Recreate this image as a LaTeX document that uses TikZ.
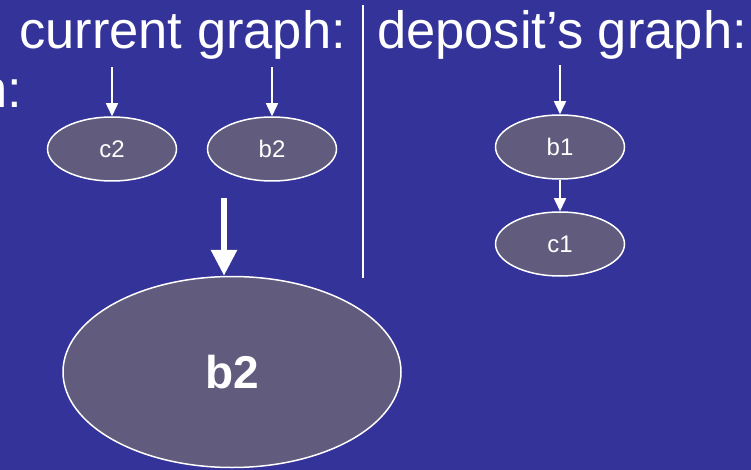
\documentclass[tikz,border=0pt]{standalone}
\usepackage{fontspec}
\setmainfont{Liberation Sans}
\usetikzlibrary{shapes.geometric,arrows.meta}
\definecolor{slideblue}{RGB}{51,51,153}
\definecolor{knotgray}{RGB}{97,91,125}
\tikzset{
	knot/.style={ellipse,draw=white,fill=knotgray,line width=1.5pt,text=white,inner sep=0pt,
		minimum width=129pt,minimum height=64pt,font=\fontsize{24}{28}\selectfont},
	heading/.style={text=white,inner sep=0pt,font=\fontsize{52.5}{60}\selectfont},
	link/.style={draw=white,line width=1.5pt,-{Triangle[length=13pt,width=12pt]}},
	biglink/.style={draw=white,line width=6pt,-{Triangle[length=26pt,width=25pt]}}
}
\begin{document}
\begin{tikzpicture}[x=1pt,y=-1pt]
	\fill[slideblue] (0,0) rectangle (751,470);
	\useasboundingbox (0,0) rectangle (751,470);
	% headings
	\node[heading,anchor=base east] (prev) at (22,108) {h:};
	\node[heading,anchor=base west] (cur) at (19,49) {current graph:};
	\node[heading,anchor=base west] (dep) at (377,49) {deposit’s graph:};
	\draw[white,line width=1.5pt] (363,5) -- (363,278); % divider
	% graphs
	\node[knot] (c2) at (112,149) {c2};
	\node[knot] (b2) at (272,149) {b2};
	\node[knot] (b1) at (560,147) {b1};
	\node[knot] (c1) at (560,244) {c1};
	\node[knot,minimum width=338pt,minimum height=191pt,font=\fontsize{46}{52}\selectfont\bfseries] (res) at (232,372) {b2};
	\foreach \n in {c2,b2,b1}{
		\path (\n.north) ++(0,-49) coordinate (\n top);
		\draw[link] (\n top) -- (\n.north);
	}
	\draw[link] (b1) -- (c1);
	\coordinate (restop) at (224,198);
	\draw[biglink] (restop) -- (restop |- res.north);
\end{tikzpicture}
\end{document}
